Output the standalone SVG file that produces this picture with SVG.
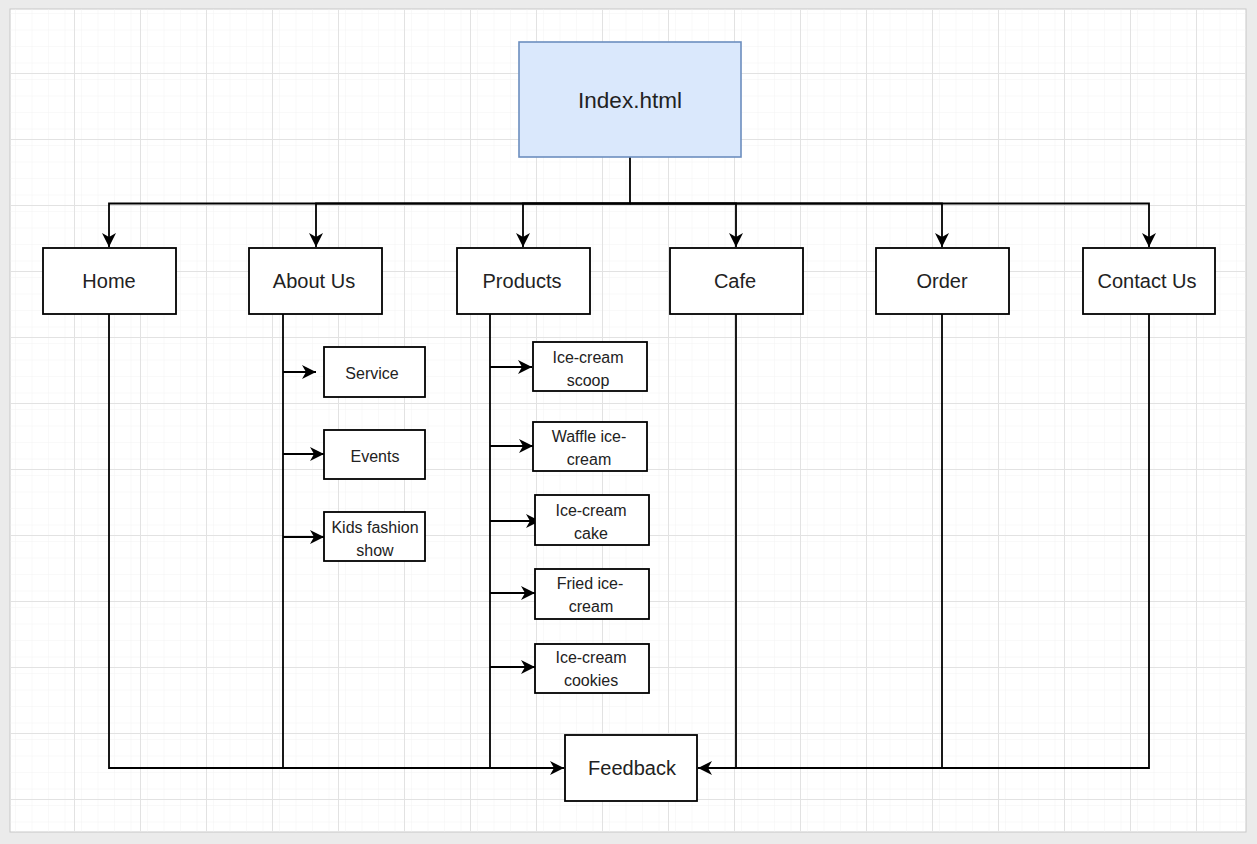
<svg xmlns="http://www.w3.org/2000/svg" width="1257" height="844" viewBox="0 0 1257 844">
<style>
.box{fill:#fff;stroke:#000;stroke-width:1.8}
.lbl{font-family:"Liberation Sans",Arial,sans-serif;fill:#222;text-anchor:middle}
.big{font-size:20px}
.sm{font-size:16px}
.ln{fill:none;stroke:#000;stroke-width:1.8}
</style>
<defs>
<pattern id="minor" x="8" y="7" width="16.5" height="16.5" patternUnits="userSpaceOnUse">
<path d="M16.5,0 V16.5 M0,16.5 H16.5" fill="none" stroke="#f3f3f3" stroke-width="1"/>
</pattern>
<pattern id="major" x="8" y="7" width="66" height="66" patternUnits="userSpaceOnUse">
<rect width="66" height="66" fill="url(#minor)"/>
<path d="M0,0.5 H66 M0.5,0 V66" fill="none" stroke="#e2e2e2" stroke-width="1"/>
</pattern>
<marker id="arr" markerUnits="userSpaceOnUse" markerWidth="16" markerHeight="16" refX="15" refY="8" orient="auto" viewBox="0 0 16 16">
<path d="M1,1 L15,8 L1,15 L5,8 Z" fill="#000"/>
</marker>
</defs>
<rect width="1257" height="844" fill="#ebebeb"/>
<rect x="10" y="9" width="1236" height="823" fill="#fff" stroke="#c8c8c8" stroke-width="1"/>
<rect x="10.5" y="9.5" width="1235" height="822" fill="url(#major)"/>

<g id="connectors">
<path class="ln" d="M630,157 V203.5 H109 V247" marker-end="url(#arr)"/>
<path class="ln" d="M630,203.5 H316 V247" marker-end="url(#arr)"/>
<path class="ln" d="M630,203.5 H523 V247" marker-end="url(#arr)"/>
<path class="ln" d="M630,203.5 H736 V247" marker-end="url(#arr)"/>
<path class="ln" d="M630,203.5 H942 V247" marker-end="url(#arr)"/>
<path class="ln" d="M630,203.5 H1149 V247" marker-end="url(#arr)"/>
<path class="ln" d="M109,314 V768 H564" marker-end="url(#arr)"/>
<path class="ln" d="M283,314 V768"/>
<path class="ln" d="M490,314 V768"/>
<path class="ln" d="M1149,314 V768 H698" marker-end="url(#arr)"/>
<path class="ln" d="M736,314 V768"/>
<path class="ln" d="M942,314 V768"/>
<path class="ln" d="M283,372 H316" marker-end="url(#arr)"/>
<path class="ln" d="M283,454 H324" marker-end="url(#arr)"/>
<path class="ln" d="M283,537 H324" marker-end="url(#arr)"/>
<path class="ln" d="M490,367 H532" marker-end="url(#arr)"/>
<path class="ln" d="M490,446 H533" marker-end="url(#arr)"/>
<path class="ln" d="M490,521 H540" marker-end="url(#arr)"/>
<path class="ln" d="M490,593 H535" marker-end="url(#arr)"/>
<path class="ln" d="M490,667 H535" marker-end="url(#arr)"/>
</g>

<g id="index">
<rect x="519" y="42" width="222" height="115" fill="#dae8fc" stroke="#6c8ebf" stroke-width="1.6"/>
<text class="lbl" x="630" y="108" font-size="22.5">Index.html</text>
</g>
<g id="home"><rect class="box" x="43" y="248" width="133" height="66"/><text class="lbl big" x="109" y="288">Home</text></g>
<g id="about"><rect class="box" x="249" y="248" width="133" height="66"/><text class="lbl big" x="314" y="288">About Us</text></g>
<g id="products"><rect class="box" x="457" y="248" width="133" height="66"/><text class="lbl big" x="522" y="288">Products</text></g>
<g id="cafe"><rect class="box" x="670" y="248" width="133" height="66"/><text class="lbl big" x="735" y="288">Cafe</text></g>
<g id="order"><rect class="box" x="876" y="248" width="133" height="66"/><text class="lbl big" x="942" y="288">Order</text></g>
<g id="contact"><rect class="box" x="1083" y="248" width="132" height="66"/><text class="lbl big" x="1147" y="288">Contact Us</text></g>
<g id="feedback"><rect class="box" x="565" y="735" width="132" height="66"/><text class="lbl big" x="632" y="775">Feedback</text></g>

<g id="service"><rect class="box" x="324" y="347" width="101" height="50"/><text class="lbl sm" x="372" y="379">Service</text></g>
<g id="events"><rect class="box" x="324" y="430" width="101" height="49"/><text class="lbl sm" x="375" y="462">Events</text></g>
<g id="kids"><rect class="box" x="324" y="512" width="101" height="49"/><text class="lbl sm" x="375" y="533">Kids fashion</text><text class="lbl sm" x="375" y="556">show</text></g>

<g id="scoop"><rect class="box" x="533" y="342" width="114" height="49"/><text class="lbl sm" x="588" y="363">Ice-cream</text><text class="lbl sm" x="588" y="386">scoop</text></g>
<g id="waffle"><rect class="box" x="533" y="422" width="114" height="49"/><text class="lbl sm" x="589" y="442">Waffle ice-</text><text class="lbl sm" x="589" y="465">cream</text></g>
<g id="cake"><rect class="box" x="535" y="495" width="114" height="50"/><text class="lbl sm" x="591" y="516">Ice-cream</text><text class="lbl sm" x="591" y="539">cake</text></g>
<g id="fried"><rect class="box" x="535" y="569" width="114" height="50"/><text class="lbl sm" x="590" y="589">Fried ice-</text><text class="lbl sm" x="591" y="612">cream</text></g>
<g id="cookies"><rect class="box" x="535" y="644" width="114" height="49"/><text class="lbl sm" x="591" y="663">Ice-cream</text><text class="lbl sm" x="591" y="686">cookies</text></g>
</svg>
